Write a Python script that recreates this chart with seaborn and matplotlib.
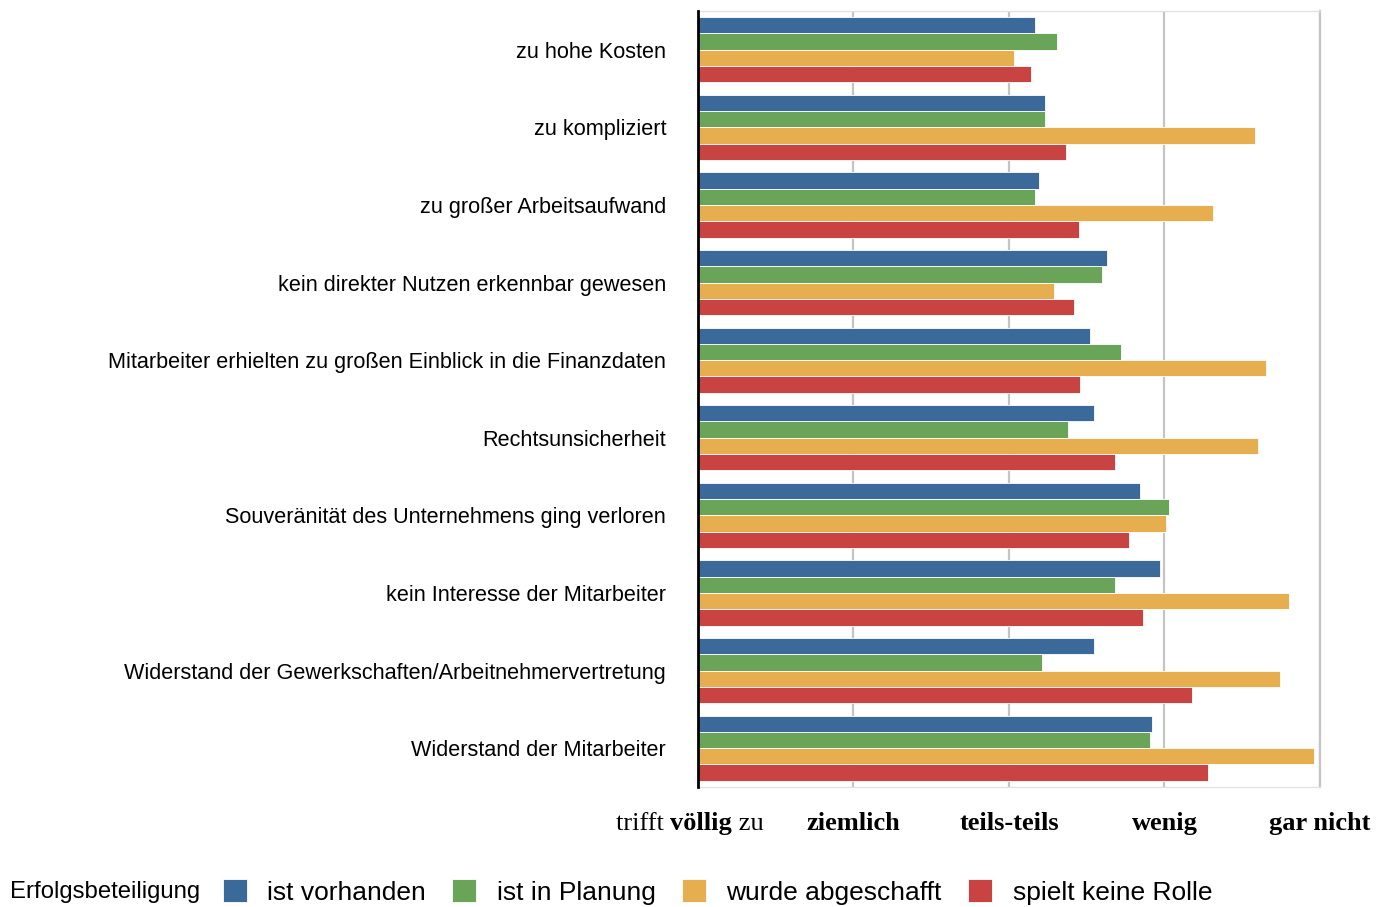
import seaborn as sns
import pandas as pd
import matplotlib.pyplot as plt
from matplotlib.patches import Patch

# reasons (y axis), top to bottom
gruende = ["zu hohe Kosten",
           "zu kompliziert",
           "zu großer Arbeitsaufwand",
           "kein direkter Nutzen erkennbar gewesen",
           "Mitarbeiter erhielten zu großen Einblick in die Finanzdaten",
           "Rechtsunsicherheit",
           "Souveränität des Unternehmens ging verloren",
           "kein Interesse der Mitarbeiter",
           "Widerstand der Gewerkschaften/Arbeitnehmervertretung",
           "Widerstand der Mitarbeiter"]

status = ["ist vorhanden", "ist in Planung", "wurde abgeschafft", "spielt keine Rolle"]

# mean answers, 1 = trifft völlig zu ... 5 = gar nicht
ist_vorhanden = [3.17, 3.23, 3.19, 3.63, 3.52, 3.55, 3.84, 3.97, 3.55, 3.92]
ist_in_planung = [3.31, 3.23, 3.17, 3.60, 3.72, 3.38, 4.03, 3.68, 3.21, 3.91]
wurde_abgeschafft = [3.03, 4.58, 4.31, 3.29, 4.65, 4.60, 4.01, 4.80, 4.74, 4.96]
spielt_keine_rolle = [3.14, 3.37, 3.45, 3.42, 3.46, 3.68, 3.77, 3.86, 4.18, 4.28]

x_labels = ["", "ziemlich", "teils-teils", "wenig", "gar nicht"]
farben = ["#3b6999", "#6aa458", "#e7ae50", "#c94343"]

werte = [ist_vorhanden, ist_in_planung, wurde_abgeschafft, spielt_keine_rolle]
df = pd.DataFrame({
    "grund": gruende * 4,
    "status": [s for s in status for _ in gruende],
    "wert": [v for serie in werte for v in serie],
})

sns.set_style("white")
plt.rcParams["text.color"] = "black"
plt.rcParams["xtick.color"] = "black"
plt.rcParams["ytick.color"] = "black"

fig = plt.figure(figsize=(13.81, 9.07), dpi=100)
ax = fig.add_axes([0.5054, 0.1323, 0.4504, 0.8556])
ax.set_axisbelow(True)

sns.barplot(data=df, y="grund", x="wert", hue="status", order=gruende,
            hue_order=status, palette=farben, saturation=1, orient="h",
            width=0.84, edgecolor="white", linewidth=0.6, legend=False, ax=ax)

ax.set_xlim(1, 5)
ax.set_xticks([1, 2, 3, 4, 5])
ax.set_xticklabels(x_labels, family="Liberation Serif", fontweight="bold",
                   fontsize=19)
ax.tick_params(axis="x", length=0, pad=18)
ax.tick_params(axis="y", length=0, pad=23, labelsize=15.6)
for lab in ax.get_yticklabels():
    lab.set_family("Liberation Sans")
ax.set_xlabel("")
ax.set_ylabel("")

ax.grid(axis="x", color="#c4c4c4", linewidth=1.6)
ax.grid(axis="y", visible=False)
ax.spines["left"].set_color("black")
ax.spines["left"].set_linewidth(2)
ax.spines["left"].set_zorder(5)
for side in ["top", "bottom"]:
    ax.spines[side].set_color("#e2e2e2")
    ax.spines[side].set_linewidth(1)
ax.spines["right"].set_color("#c4c4c4")
ax.spines["right"].set_linewidth(1.6)

# "trifft völlig zu" with only the middle word in bold
mitte = ax.text(1.02, -0.056, "völlig", transform=ax.get_xaxis_transform(),
                ha="center", va="baseline", family="Liberation Serif",
                fontweight="bold", fontsize=19)
ax.annotate("trifft ", xy=(0, 0), xycoords=mitte, ha="right", va="bottom",
            family="Liberation Serif", fontsize=19, annotation_clip=False)
ax.annotate(" zu", xy=(1, 0), xycoords=mitte, ha="left", va="bottom",
            family="Liberation Serif", fontsize=19, annotation_clip=False)

# legend with the title on the left
fig.text(10 / 1381, 1 - 892 / 907, "Erfolgsbeteiligung", ha="left",
         va="center", family="Liberation Sans", fontsize=17.2)
handles = [Patch(facecolor=c, edgecolor="white", linewidth=0.6) for c in farben]
fig.legend(handles, status, loc="center left",
           bbox_to_anchor=(223 / 1381, 1 - 892 / 907), ncol=4, frameon=False,
           prop={"family": "Liberation Sans", "size": 19},
           handlelength=0.9, handleheight=0.95, handletextpad=0.78,
           columnspacing=1.0, borderpad=0, borderaxespad=0)

fig.savefig("out.png", dpi=100)
